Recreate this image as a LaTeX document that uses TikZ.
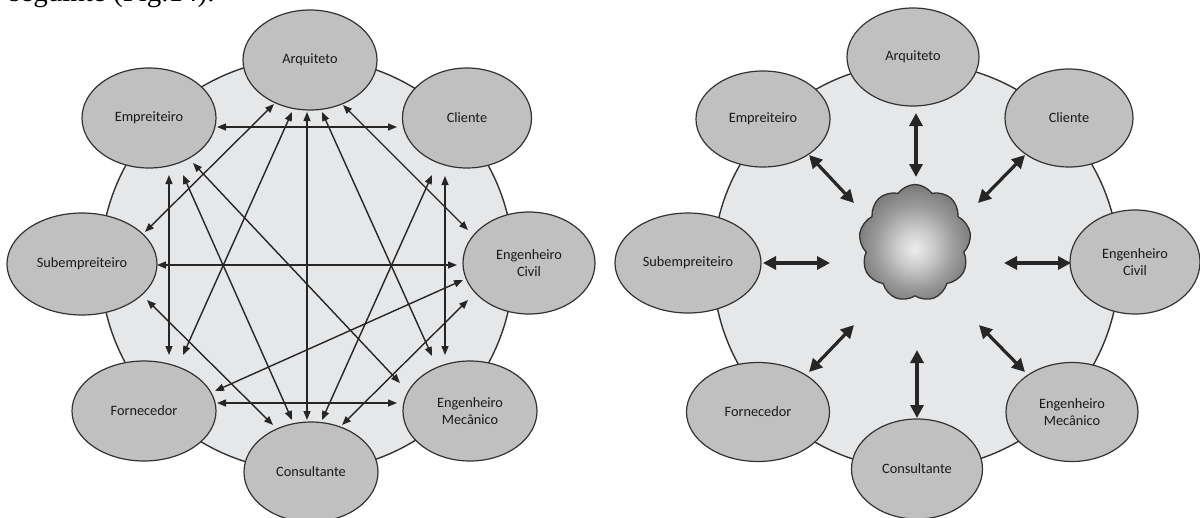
\documentclass[tikz,border=0pt]{standalone}
\usepackage{fontspec}
\setmainfont{Carlito}
\newfontfamily\bodyserif{Liberation Serif}
\usetikzlibrary{shapes.geometric,shapes.symbols,arrows.meta}

\definecolor{ringfill}{HTML}{E6E7E9}
\definecolor{nodefill}{HTML}{C0C0C0}
\definecolor{edgegray}{HTML}{333333}
\definecolor{inkgray}{HTML}{262626}

% soft grey sphere look for the central cloud
\pgfdeclareradialshading{puffshade}{\pgfpoint{0bp}{-3bp}}{%
  color(0bp)=(black!7); color(8bp)=(black!20); color(18bp)=(black!40);
  color(26bp)=(black!52); color(50bp)=(black!55)}

\tikzset{
  party/.style={ellipse, draw=edgegray, line width=1.2pt, fill=nodefill,
    inner sep=0pt, text=black!90, align=center,
    font=\fontsize{14.3}{17}\selectfont},
  ring/.style={circle, draw=edgegray, line width=1.4pt, fill=ringfill, inner sep=0pt},
  link/.style={draw=inkgray, line width=1.4pt,
    {Triangle[length=9pt,width=7pt]}-{Triangle[length=9pt,width=7pt]}},
  hub/.style={draw=inkgray, line width=3.2pt,
    {Triangle[length=13pt,width=13pt]}-{Triangle[length=13pt,width=13pt]}},
}

\begin{document}
\begin{tikzpicture}[x=1pt,y=-1pt]
\useasboundingbox (0,0) rectangle (1200,517);
\clip (0,0) rectangle (1200,517);

% last line of the preceding paragraph
\node[anchor=base west, inner sep=0pt, text=black,
      font=\bodyserif\fontsize{29}{30}\selectfont] (lead) at (9,1) {seguinte (Fig.14).};

% ---------------- left: every party talks to every other ----------------
\node[ring, minimum size=413pt] (ringA) at (307,264.5) {};

\node[party, minimum width=134pt, minimum height=100pt] (arqA) at (310,60)  {Arquiteto};
\node[party, minimum width=134pt, minimum height=100pt] (empA) at (149,118) {Empreiteiro};
\node[party, minimum width=129pt, minimum height=100pt] (cliA) at (467,118) {Cliente};
\node[party, minimum width=150pt, minimum height=102pt] (subA) at (82,264)  {Subempreiteiro};
\node[party, minimum width=132pt, minimum height=102pt] (ecA)  at (529,263) {Engenheiro\\Civil};
\node[party, minimum width=144pt, minimum height=100pt] (forA) at (144,411) {Fornecedor};
\node[party, minimum width=134pt, minimum height=100pt] (emA)  at (470,411) {Engenheiro\\Mecânico};
\node[party, minimum width=134pt, minimum height=100pt] (conA) at (311,472) {Consultante};

\draw[link] ([shift={(68,9)}]empA.center)   -- ([shift={(-70,9)}]cliA.center);
\draw[link] ([shift={(75,1)}]subA.center)   -- ([shift={(-72,2)}]ecA.center);
\draw[link] ([shift={(73,-8)}]forA.center)  -- ([shift={(-73,-8)}]emA.center);
\draw[link] ([shift={(-3,52)}]arqA.center)  -- ([shift={(-4,-52)}]conA.center);
\draw[link] ([shift={(20,57)}]empA.center)  -- ([shift={(25,-56)}]forA.center);
\draw[link] ([shift={(-22,58)}]cliA.center) -- ([shift={(-25,-56)}]emA.center);
\draw[link] ([shift={(-36,44)}]arqA.center) -- ([shift={(63,-32)}]subA.center);
\draw[link] ([shift={(33,45)}]arqA.center)  -- ([shift={(-61,-33)}]ecA.center);
\draw[link] ([shift={(-18,52)}]arqA.center) -- ([shift={(39,-56)}]forA.center);
\draw[link] ([shift={(12,52)}]arqA.center)  -- ([shift={(-38,-55)}]emA.center);
\draw[link] ([shift={(34,57)}]empA.center)  -- ([shift={(-19,-52)}]conA.center);
\draw[link] ([shift={(44,45)}]empA.center)  -- ([shift={(-70,-28)}]emA.center);
\draw[link] ([shift={(-35,57)}]cliA.center) -- ([shift={(11,-52)}]conA.center);
\draw[link] ([shift={(65,36)}]subA.center)  -- ([shift={(-38,-47)}]conA.center);
\draw[link] ([shift={(-66,17)}]ecA.center)  -- ([shift={(71,-20)}]forA.center);
\draw[link] ([shift={(-61,37)}]ecA.center)  -- ([shift={(31,-47)}]conA.center);

% ---------------- right: every party goes through the hub ----------------
\node[ring, minimum size=406pt] (ringB) at (916,266) {};

\node[party, minimum width=132pt, minimum height=98pt]  (arqB) at (913,57)   {Arquiteto};
\node[party, minimum width=134pt, minimum height=96pt]  (empB) at (763,119)  {Empreiteiro};
\node[party, minimum width=128pt, minimum height=98pt]  (cliB) at (1069,118) {Cliente};
\node[party, minimum width=146pt, minimum height=100pt] (subB) at (688,263)  {Subempreiteiro};
\node[party, minimum width=130pt, minimum height=104pt] (ecB)  at (1135,262) {Engenheiro\\Civil};
\node[party, minimum width=143pt, minimum height=99pt]  (forB) at (758,412)  {Fornecedor};
\node[party, minimum width=132pt, minimum height=99pt]  (emB)  at (1072,412) {Engenheiro\\Mecânico};
\node[party, minimum width=131pt, minimum height=100pt] (conB) at (917,469)  {Consultante};

\node[cloud, cloud puffs=9, cloud puff arc=110, cloud ignores aspect,
      minimum width=112pt, minimum height=117pt, inner sep=0pt,
      draw=edgegray, line width=1.3pt, shade, shading=puffshade] (cloudB) at (915,243) {};

\draw[hub] ([shift={(3,56)}]arqB.center)   -- ([shift={(1,-66)}]cloudB.center);
\draw[hub] ([shift={(46,36)}]empB.center)  -- ([shift={(-61,-40)}]cloudB.center);
\draw[hub] ([shift={(-44,37)}]cliB.center) -- ([shift={(63,-40)}]cloudB.center);
\draw[hub] ([shift={(75,0)}]subB.center)   -- ([shift={(-85,20)}]cloudB.center);
\draw[hub] ([shift={(-64,1)}]ecB.center)   -- ([shift={(89,20)}]cloudB.center);
\draw[hub] ([shift={(51,-40)}]forB.center) -- ([shift={(-61,82)}]cloudB.center);
\draw[hub] ([shift={(0,-51)}]conB.center)  -- ([shift={(2,107)}]cloudB.center);
\draw[hub] ([shift={(-47,-40)}]emB.center) -- ([shift={(64,82)}]cloudB.center);
\end{tikzpicture}
\end{document}
